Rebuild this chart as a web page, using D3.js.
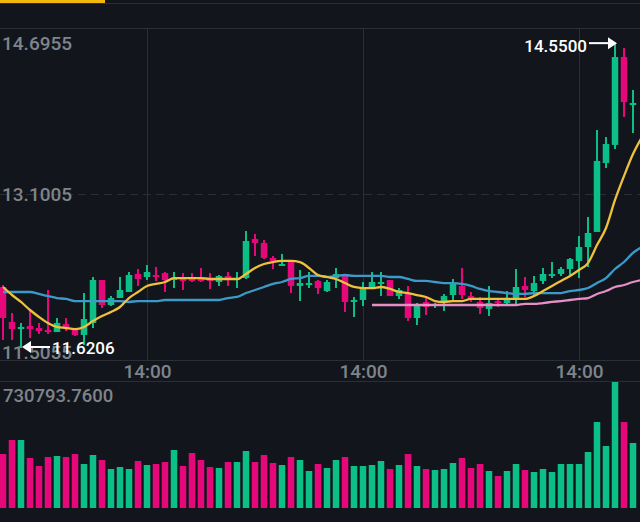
<!DOCTYPE html>
<html>
<head>
<meta charset="utf-8">
<script src="https://cdn.jsdelivr.net/npm/d3@7"></script>
<style>
  html, body { margin: 0; padding: 0; background: #12161c; overflow: hidden; }
  text { font-family: Roboto, sans-serif; font-weight: 500; }
</style>
</head>
<body>
<script>
//#### DATA ####
var opens = [12.207,11.871,11.803,11.832,11.813,11.794,11.774,11.851,11.803,11.746,11.861,12.274,12.034,12.101,12.159,12.332,12.303,12.322,12.341,12.284,12.284,12.284,12.284,12.293,
  12.255,12.313,12.284,12.293,12.668,12.630,12.486,12.409,12.447,12.217,12.236,12.265,12.168,12.293,12.313,12.063,12.082,12.207,12.236,12.274,12.120,12.140,11.909,
  12.063,12.034,12.063,12.130,12.217,12.120,12.063,11.996,12.072,12.053,12.101,12.217,12.168,12.265,12.322,12.332,12.380,12.457,12.591,12.736,13.398,13.572,14.417,13.955];
var highs = [12.226,11.957,11.861,11.986,11.861,12.178,11.909,11.909,11.813,12.149,12.303,12.274,12.120,12.303,12.351,12.380,12.418,12.399,12.351,12.351,12.341,12.341,12.390,12.341,
  12.322,12.351,12.351,12.745,12.716,12.658,12.505,12.524,12.457,12.370,12.351,12.274,12.274,12.390,12.322,12.111,12.255,12.351,12.351,12.274,12.197,12.217,12.053,
  12.120,12.053,12.140,12.284,12.390,12.159,12.111,12.217,12.101,12.168,12.380,12.303,12.313,12.390,12.447,12.399,12.486,12.697,12.879,13.715,13.648,14.550,14.503,14.100];
var lows = [11.698,11.698,11.6206,11.717,11.755,11.755,11.774,11.784,11.736,11.650,11.813,12.005,12.024,12.101,12.159,12.217,12.274,12.265,12.159,12.197,12.178,12.255,12.255,12.188,
  12.217,12.217,12.197,12.284,12.505,12.476,12.380,12.409,12.149,12.072,12.197,12.140,12.159,12.197,11.967,11.919,12.024,12.207,12.120,12.120,12.092,11.880,11.842,
  11.938,12.005,11.976,12.082,12.092,12.063,11.947,11.928,12.015,12.034,12.024,12.111,12.111,12.236,12.293,12.313,12.322,12.293,12.399,12.736,13.350,13.533,13.840,13.686];
var closes = [11.909,11.803,11.823,11.803,11.784,11.774,11.861,11.803,11.746,11.899,12.274,12.034,12.101,12.178,12.322,12.284,12.351,12.303,12.274,12.293,12.265,12.265,12.265,12.265,
  12.313,12.274,12.293,12.649,12.630,12.486,12.457,12.428,12.217,12.245,12.245,12.197,12.255,12.332,12.063,12.082,12.188,12.255,12.255,12.120,12.178,11.909,12.024,
  12.015,12.044,12.120,12.236,12.130,12.092,12.005,12.053,12.053,12.092,12.207,12.178,12.245,12.332,12.332,12.380,12.476,12.591,12.726,13.418,13.581,14.417,13.984,13.975];
var volumes = [313200,394400,394400,290000,243600,295800,301600,295800,313200,255200,307400,278400,226200,237800,226200,272600,249400,255200,266800,336400,243600,319000,278400,237800,
  232000,266800,266800,330600,266800,307400,261000,249400,295800,278400,214600,255200,232000,278400,295800,243600,243600,249400,272600,226200,249400,313200,243600,
  226200,220400,226200,261000,290000,232000,255200,214600,185600,214600,255200,220400,208800,226200,208800,255200,255200,255200,324800,498800,359600,730793.76,498800,377000];

// the three average lines run one step past the last candle, off the right edge
var ma7 = [12.207,12.130,12.063,11.986,11.919,11.861,11.823,11.813,11.803,11.823,11.880,11.928,11.967,12.015,12.101,12.159,12.217,12.236,12.255,12.293,12.293,12.293,12.293,12.284,
  12.284,12.284,12.284,12.332,12.390,12.428,12.447,12.457,12.457,12.447,12.390,12.322,12.303,12.284,12.245,12.207,12.197,12.197,12.207,12.188,12.159,12.149,12.130,
  12.111,12.072,12.063,12.072,12.072,12.092,12.092,12.092,12.092,12.092,12.092,12.092,12.120,12.168,12.217,12.265,12.313,12.370,12.437,12.610,12.774,13.043,13.273,13.485,13.648];
var ma25 = [12.159,12.159,12.159,12.159,12.140,12.120,12.101,12.092,12.072,12.072,12.072,12.072,12.072,12.072,12.063,12.072,12.072,12.072,12.082,12.082,12.082,12.082,12.082,12.082,
  12.082,12.101,12.111,12.149,12.178,12.207,12.236,12.255,12.284,12.293,12.313,12.313,12.303,12.313,12.322,12.313,12.313,12.313,12.313,12.303,12.303,12.284,12.265,
  12.265,12.255,12.245,12.245,12.236,12.217,12.188,12.168,12.159,12.149,12.140,12.140,12.149,12.149,12.149,12.149,12.168,12.178,12.197,12.245,12.293,12.380,12.447,12.534,12.591];
var ma99Start = 41;
var ma99 = [12.034,12.034,12.034,12.034,12.034,12.034,12.034,12.034,12.034,12.034,12.034,12.034,12.034,12.034,12.034,12.034,12.034,12.044,12.044,12.053,12.063,12.072,12.082,12.092,12.101,12.140,12.168,12.207,12.226,12.255,12.274];

var priceTicks = [14.6955, 13.1005, 11.5055];
var timeTicks = [16, 40, 64];
var timeLabels = ["14:00", "14:00", "14:00"];
var maxVolumeLabel = "730793.7600";
var highMark = {i: 68, price: 14.55, label: "14.5500"};
var lowMark = {i: 2, price: 11.6206, label: "11.6206"};
//##############

var width = 640;
var height = 522;
var green = "#0cbf86";
var pink = "#e6087b";
var gridColor = "#2a2e35";
var labelColor = "#7f848b";

var svg = d3.select("body").append("svg")
  .attr("width", width)
  .attr("height", height)
  .style("display", "block")
  .style("background", "#12161c");

var x = d3.scaleLinear().domain([0, 70]).range([3, 633]);
var y = d3.scaleLinear().domain([11.5055, 14.6955]).range([360, 28]);
var yVol = d3.scaleLinear().domain([0, 730793.76]).range([508, 382]);

function candleColor(i) { return closes[i] >= opens[i] ? green : pink; }

// tab underline and frame lines
svg.append("rect").attr("x", 0).attr("y", 0).attr("width", 105).attr("height", 3).attr("fill", "#f0b90b");
[3, 28, 381].forEach(function(v) {
  svg.append("line").attr("x1", 0).attr("x2", width).attr("y1", v + 0.5).attr("y2", v + 0.5)
    .attr("stroke", gridColor);
});

// #### axes ####
var xAxis = d3.axisBottom(x)
  .tickValues(timeTicks)
  .tickSize(-332)
  .tickPadding(4)
  .tickFormat(function(d, i) { return timeLabels[i]; });

var xAxisG = svg.append("g")
  .attr("transform", "translate(0,360)")
  .call(xAxis);
xAxisG.select(".domain").attr("stroke", gridColor).attr("d", "M0,0.5H640");
xAxisG.selectAll(".tick line").attr("stroke", gridColor);
xAxisG.selectAll("text").attr("fill", labelColor).style("font-size", "19px").style("font-family", "Roboto, sans-serif");

svg.append("line")
  .attr("x1", 0).attr("x2", width)
  .attr("y1", y(priceTicks[1]) + 0.5).attr("y2", y(priceTicks[1]) + 0.5)
  .attr("stroke", gridColor)
  .attr("stroke-dasharray", "8,5");

// #### candles ####
var idx = d3.range(opens.length);

svg.selectAll(".wick").data(idx).enter().append("line")
  .attr("class", "wick")
  .attr("x1", function(i) { return x(i); })
  .attr("x2", function(i) { return x(i); })
  .attr("y1", function(i) { return y(highs[i]); })
  .attr("y2", function(i) { return y(lows[i]); })
  .attr("stroke", candleColor)
  .attr("stroke-width", 2);

svg.selectAll(".body").data(idx).enter().append("rect")
  .attr("class", "body")
  .attr("x", function(i) { return x(i) - 3.25; })
  .attr("width", 6.5)
  .attr("y", function(i) { return y(Math.max(opens[i], closes[i])); })
  .attr("height", function(i) { return Math.max(2, Math.abs(y(opens[i]) - y(closes[i]))); })
  .attr("fill", candleColor);

svg.selectAll(".vol").data(idx).enter().append("rect")
  .attr("class", "vol")
  .attr("x", function(i) { return x(i) - 3.25; })
  .attr("width", 6.5)
  .attr("y", function(i) { return yVol(volumes[i]); })
  .attr("height", function(i) { return yVol(0) - yVol(volumes[i]); })
  .attr("fill", candleColor);

// #### average lines ####
var line = d3.line()
  .x(function(d) { return x(d.i); })
  .y(function(d) { return y(d.v); })
  .curve(d3.curveMonotoneX);

function drawMa(values, start, color) {
  svg.append("path")
    .datum(values.map(function(v, k) { return {i: k + start, v: v}; }))
    .attr("d", line)
    .attr("fill", "none")
    .attr("stroke", color)
    .attr("stroke-width", 2.3);
}

drawMa(ma25, 0, "#3c9ac8");
drawMa(ma99, ma99Start, "#e58fc4");
drawMa(ma7, 0, "#eec13c");

// #### labels ####
function priceLabel(text, py, anchorY) {
  svg.append("text")
    .attr("x", 2)
    .attr("y", py + anchorY)
    .attr("fill", labelColor)
    .style("font-size", "19px")
    .text(text);
}
priceLabel(priceTicks[0].toFixed(4), y(priceTicks[0]), 22);
priceLabel(priceTicks[1].toFixed(4), y(priceTicks[1]), 7);
priceLabel(priceTicks[2].toFixed(4), y(priceTicks[2]), -1);

svg.append("text")
  .attr("x", 3)
  .attr("y", 402)
  .attr("fill", labelColor)
  .style("font-size", "18.5px")
  .text(maxVolumeLabel);

// #### high / low arrows ####
function arrow(x1, x2, py) {
  var dir = x2 > x1 ? 1 : -1;
  svg.append("line")
    .attr("x1", x1).attr("x2", x2 - dir * 6)
    .attr("y1", py).attr("y2", py)
    .attr("stroke", "#ffffff")
    .attr("stroke-width", 2);
  svg.append("path")
    .attr("d", "M" + x2 + "," + py + "L" + (x2 - dir * 9) + "," + (py - 6) + "L" + (x2 - dir * 9) + "," + (py + 6) + "Z")
    .attr("fill", "#ffffff");
}

arrow(x(highMark.i) - 26, x(highMark.i) + 2, y(highMark.price));
svg.append("text")
  .attr("x", x(highMark.i) - 28)
  .attr("y", y(highMark.price) + 9)
  .attr("text-anchor", "end")
  .attr("fill", "#ffffff")
  .style("font-size", "17px")
  .text(highMark.label);

arrow(x(lowMark.i) + 29, x(lowMark.i) + 1, y(lowMark.price) - 1);
svg.append("text")
  .attr("x", x(lowMark.i) + 31)
  .attr("y", y(lowMark.price) + 6)
  .attr("fill", "#ffffff")
  .style("font-size", "17px")
  .text(lowMark.label);
</script>
</body>
</html>
